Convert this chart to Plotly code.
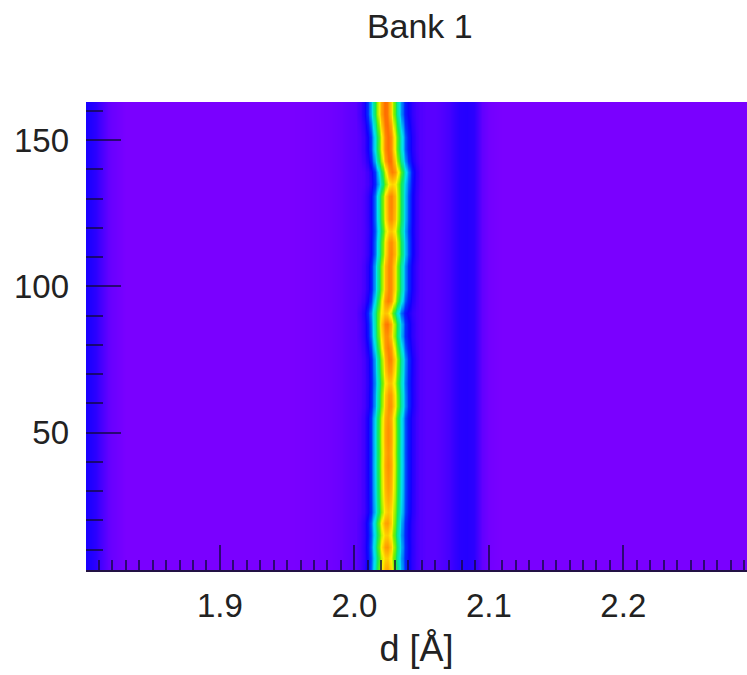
import plotly.graph_objects as go

# d grid (Angstrom): coarse outside the peak region, fine across it
d_left = [1.800, 1.804, 1.808, 1.811, 1.814, 1.817, 1.820, 1.825, 1.830, 1.860, 1.900, 1.950, 1.980, 1.990, 1.995]
d_peak = [round(2.000 + 0.001 * i, 3) for i in range(0, 56)]
d_right = [2.060, 2.065, 2.070, 2.074, 2.078, 2.084, 2.089, 2.092, 2.095, 2.100, 2.110, 2.150, 2.200, 2.250, 2.292]

# Background intensity, on the same grid
bg_left = [0.12, 0.11, 0.095, 0.07, 0.05, 0.03, 0.02, 0.01, 0.0, 0.0, 0.0, 0.0, 0.01, 0.02, 0.03]
bg_peak = [0.035, 0.035, 0.04, 0.04, 0.04, 0.04, 0.04, 0.04, 0.04, 0.04,
           0.04, 0.04, 0.04, 0.04, 0.04, 0.04, 0.04, 0.04, 0.04, 0.04,
           0.04, 0.04, 0.04, 0.04, 0.04, 0.04, 0.04, 0.04, 0.04, 0.04,
           0.05, 0.05, 0.06, 0.06, 0.07, 0.07, 0.08, 0.08, 0.08, 0.08,
           0.08, 0.08, 0.08, 0.075, 0.07, 0.07, 0.065, 0.06, 0.055, 0.05,
           0.05, 0.045, 0.045, 0.04, 0.04, 0.04]
bg_right = [0.04, 0.05, 0.065, 0.085, 0.10, 0.105, 0.095, 0.065, 0.03, 0.01, 0.0, 0.0, 0.0, 0.0, 0.0]

# Half of the peak shape, per 0.001 of distance from the centre
peak_shape = [1.00, 0.99, 0.96, 0.92, 0.86, 0.78, 0.70, 0.62, 0.54, 0.46, 0.39, 0.32,
              0.26, 0.20, 0.15, 0.11, 0.08, 0.06, 0.04, 0.03, 0.02, 0.01, 0.005]

# Detector rows with the peak centre and the peak height read for each
rows = [3, 7, 11, 15, 19, 23, 27, 31, 35, 39, 43, 47, 51, 55, 59, 63, 67, 71, 75, 79, 83,
        87, 91, 95, 99, 103, 107, 111, 115, 119, 123, 127, 131, 135, 139, 143, 147, 151, 155, 159, 163]
centres = [2.024, 2.024, 2.024, 2.024, 2.024, 2.025, 2.025, 2.025, 2.025, 2.025, 2.025,
           2.025, 2.025, 2.025, 2.026, 2.026, 2.026, 2.026, 2.026, 2.025, 2.024,
           2.024, 2.023, 2.025, 2.026, 2.026, 2.026, 2.027, 2.027, 2.027, 2.027, 2.027,
           2.027, 2.028, 2.028, 2.026, 2.025, 2.025, 2.024, 2.023, 2.023]
heights = [0.82, 0.77, 0.84, 0.77, 0.83, 0.78, 0.81, 0.83, 0.84, 0.85, 0.84,
           0.85, 0.85, 0.84, 0.85, 0.84, 0.79, 0.84, 0.87, 0.87, 0.85,
           0.88, 0.78, 0.87, 0.86, 0.86, 0.86, 0.86, 0.85, 0.78, 0.85, 0.86,
           0.86, 0.76, 0.87, 0.89, 0.89, 0.89, 0.89, 0.89, 0.89]

x = d_left + d_peak + d_right
bg = bg_left + bg_peak + bg_right
z = []
for c, h in zip(centres, heights):
    row = list(bg)
    i0 = len(d_left) + round((c - 2.000) / 0.001)
    for k, s in enumerate(peak_shape):
        for i in {i0 - k, i0 + k}:
            row[i] = max(row[i], bg[i] + (h - bg[i]) * s)
    z.append(row)

colorscale = [[0.0, "#7a00ff"], [0.13, "#1000ff"], [0.20, "#0030ff"], [0.36, "#00e0f0"],
              [0.50, "#10e860"], [0.60, "#70f000"], [0.72, "#fff000"], [0.85, "#ff9000"], [1.0, "#ff1000"]]

fig = go.Figure(go.Heatmap(x=x, y=rows, z=z, zmin=0, zmax=1, colorscale=colorscale,
                           zsmooth="best", showscale=False))

text_color = "#222222"
tick_color = "rgba(20,10,70,0.75)"
tickfont = dict(family="Liberation Sans", size=33, color=text_color)
fig.update_layout(
    width=747, height=675, margin=dict(l=86, r=0, t=102, b=105),
    paper_bgcolor="white", plot_bgcolor="#7a00ff",
    font=dict(family="Liberation Sans", color=text_color),
    title=dict(text="Bank 1", x=0.562, xanchor="center", y=0.962, yanchor="middle",
               font=dict(family="Liberation Sans", size=34, color=text_color)),
    xaxis=dict(range=[1.8004, 2.292], tickmode="linear", tick0=1.9, dtick=0.1, tickformat=".1f",
               ticks="inside", ticklen=25, tickwidth=1.5, tickcolor=tick_color, tickfont=tickfont,
               ticklabelstandoff=6,
               minor=dict(dtick=0.01, tick0=1.8, ticks="inside", ticklen=10, tickwidth=1.5, tickcolor=tick_color, showgrid=False),
               showgrid=False, zeroline=False, showline=True, linecolor="#221144", linewidth=1.5,
               title=dict(text="d [Å]", font=dict(family="Liberation Sans", size=36, color=text_color), standoff=12)),
    yaxis=dict(range=[3, 163], tickmode="linear", tick0=0, dtick=50,
               ticks="inside", ticklen=35, tickwidth=1.5, tickcolor=tick_color, tickfont=tickfont,
               ticklabelstandoff=16,
               minor=dict(dtick=10, tick0=0, ticks="inside", ticklen=17, tickwidth=1.5, tickcolor=tick_color, showgrid=False),
               showgrid=False, zeroline=False, showline=False),
)
fig.write_html("out.html", config=dict(displayModeBar=False),
               post_script="document.body.style.margin='0';")
